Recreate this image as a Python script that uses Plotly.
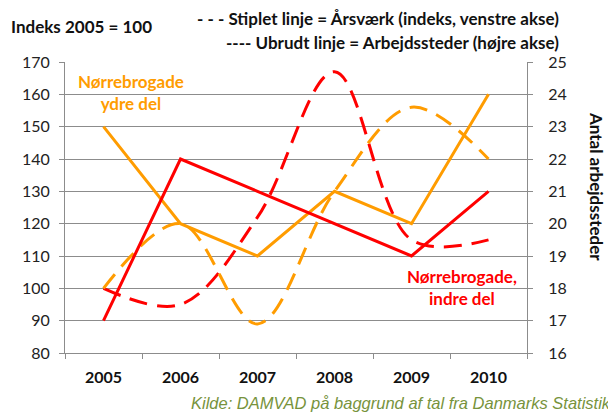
import plotly.graph_objects as go

years = ["2005", "2006", "2007", "2008", "2009", "2010"]
# Årsværk (index, left axis) - dashed
aarsvaerk_indre = [100, 95, 122, 167, 115, 115]
aarsvaerk_ydre = [100, 120, 89, 130, 156, 140]
# Arbejdssteder (right axis) - solid
steder_indre = [17, 22, 21, 20, 19, 21]
steder_ydre = [23, 20, 19, 21, 20, 24]

RED = "#FF0000"
ORANGE = "#FF9C00"
GRID = "#8C8C8C"
FONT = "Lato"

# page body has an 8px margin, so the figure is drawn 8px in from the window edge
OFF = 8
W, H = 616 - OFF, 415 - OFF
L, R, T, B = 65 - OFF, W - (527 - OFF), 62 - OFF, H - (353 - OFF)

fig = go.Figure()
fig.add_trace(go.Scatter(x=years, y=aarsvaerk_indre, mode="lines", yaxis="y",
                         line=dict(color=RED, width=3, dash="18px,10px", shape="spline", smoothing=1.0)))
fig.add_trace(go.Scatter(x=years, y=aarsvaerk_ydre, mode="lines", yaxis="y",
                         line=dict(color=ORANGE, width=3, dash="18px,10px", shape="spline", smoothing=1.0)))
fig.add_trace(go.Scatter(x=years, y=steder_ydre, mode="lines", yaxis="y2",
                         line=dict(color=ORANGE, width=3)))
fig.add_trace(go.Scatter(x=years, y=steder_indre, mode="lines", yaxis="y2",
                         line=dict(color=RED, width=3)))

fig.update_layout(
    width=W, height=H,
    margin=dict(l=L, r=R, t=T, b=B),
    paper_bgcolor="white", plot_bgcolor="white",
    showlegend=False,
    font=dict(family=FONT, size=16, color="#222"),
    xaxis=dict(type="category", range=[-0.5, 5.5], tickson="boundaries", ticks="outside", ticklen=5,
               tickcolor=GRID, showline=True, linecolor=GRID, linewidth=1,
               showgrid=False, tickfont=dict(family=FONT, size=16, color="#111", weight="bold"),
               ticklabelstandoff=10),
    yaxis=dict(range=[80, 170], dtick=10, tick0=80, showgrid=True, gridcolor=GRID,
               gridwidth=1, ticks="outside", ticklen=5, tickcolor=GRID,
               showline=True, linecolor=GRID, zeroline=False, ticklabelstandoff=6,
               tickfont=dict(family=FONT, size=16, color="#222")),
    yaxis2=dict(range=[16, 25], dtick=1, tick0=16, overlaying="y", side="right",
                showgrid=False, ticks="outside", ticklen=5, tickcolor=GRID,
                showline=True, linecolor=GRID, zeroline=False, ticklabelstandoff=12,
                tickfont=dict(family=FONT, size=16, color="#222")),
)

pw, ph = W - L - R, H - T - B
px = lambda x: (x - OFF - L) / pw          # window pixel -> paper
py = lambda y: (H - B - (y - OFF)) / ph
bold = lambda s: "<b>" + s + "</b>"

anns = [
    dict(x=9, y=26, text=bold("Indeks 2005 = 100"), xanchor="left", size=17, color="#111"),
    dict(x=561, y=18, text=bold("- - - Stiplet linje = Årsværk (indeks, venstre akse)"), xanchor="right", size=17, color="#111"),
    dict(x=561, y=42, text=bold("---- Ubrudt linje = Arbejdssteder (højre akse)"), xanchor="right", size=17, color="#111"),
    dict(x=131, y=93, text=bold("Nørrebrogade<br>ydre del"), xanchor="center", size=17, color=ORANGE),
    dict(x=462, y=287, text=bold("Nørrebrogade,<br>indre del"), xanchor="center", size=17, color=RED),
]
for a in anns:
    fig.add_annotation(xref="paper", yref="paper", x=px(a["x"]), y=py(a["y"]), text=a["text"],
                       showarrow=False, font=dict(family=FONT, size=a["size"], color=a["color"]),
                       xanchor=a["xanchor"], yanchor="middle", align="center")

fig.add_annotation(xref="paper", yref="paper", x=px(597), y=py(186),
                   text=bold("Antal arbejdssteder"), textangle=90, showarrow=False,
                   font=dict(family=FONT, size=17, color="#111"), xanchor="center", yanchor="middle")
fig.add_annotation(xref="paper", yref="paper", x=px(613), y=py(403),
                   text="<i>Kilde: DAMVAD på baggrund af tal fra Danmarks Statistik</i>", showarrow=False,
                   font=dict(family="Liberation Sans", size=16.5, color="#77933C"), xanchor="right", yanchor="middle")

fig.write_html("out.html")
